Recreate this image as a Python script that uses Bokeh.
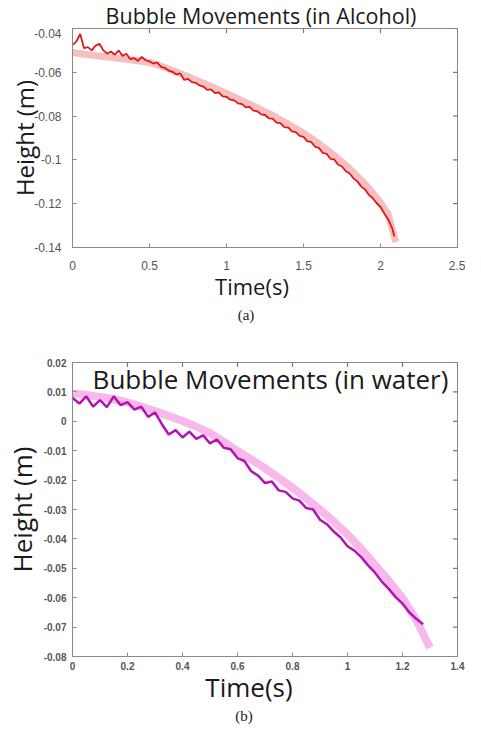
import math
from bokeh.plotting import figure
from bokeh.models import FixedTicker, Label, Range1d, Div
from bokeh.layouts import column
from bokeh.embed import file_html
from bokeh.resources import INLINE

# ---------------- data: alcohol ----------------
alc_t = [0.000, 0.025, 0.050, 0.075, 0.100, 0.125, 0.150, 0.175, 0.200, 0.225,
         0.250, 0.275, 0.300, 0.325, 0.350, 0.375, 0.400, 0.425, 0.450, 0.475,
         0.500, 0.525, 0.550, 0.575, 0.600, 0.625, 0.650, 0.675, 0.700, 0.725,
         0.750, 0.775, 0.800, 0.825, 0.850, 0.875, 0.900, 0.925, 0.950, 0.975,
         1.000, 1.025, 1.050, 1.075, 1.100, 1.125, 1.150, 1.175, 1.200, 1.225,
         1.250, 1.275, 1.300, 1.325, 1.350, 1.375, 1.400, 1.425, 1.450, 1.475,
         1.500, 1.525, 1.550, 1.575, 1.600, 1.625, 1.650, 1.675, 1.700, 1.725,
         1.750, 1.775, 1.800, 1.825, 1.850, 1.875, 1.900, 1.925, 1.950, 1.975,
         2.000, 2.025, 2.050, 2.075, 2.090]
alc_h = [-0.0475, -0.0460, -0.0425, -0.0490, -0.0485, -0.0500, -0.0478, -0.0470, -0.0500, -0.0515,
         -0.0505, -0.0520, -0.0500, -0.0525, -0.0515, -0.0540, -0.0535, -0.0548, -0.0530, -0.0545,
         -0.0550, -0.0560, -0.0555, -0.0575, -0.0580, -0.0592, -0.0598, -0.0610, -0.0605, -0.0635,
         -0.0630, -0.0645, -0.0648, -0.0660, -0.0665, -0.0680, -0.0678, -0.0695, -0.0692, -0.0710,
         -0.0712, -0.0725, -0.0728, -0.0742, -0.0745, -0.0760, -0.0758, -0.0775, -0.0778, -0.0792,
         -0.0795, -0.0810, -0.0812, -0.0830, -0.0832, -0.0850, -0.0852, -0.0870, -0.0873, -0.0890,
         -0.0895, -0.0915, -0.0918, -0.0940, -0.0945, -0.0968, -0.0972, -0.0995, -0.0998, -0.1022,
         -0.1030, -0.1052, -0.1062, -0.1085, -0.1098, -0.1122, -0.1135, -0.1160, -0.1175, -0.1198,
         -0.1215, -0.1245, -0.1272, -0.1310, -0.1350]
alc_fit_t = [0.00, 0.10, 0.20, 0.30, 0.40, 0.50, 0.60, 0.70, 0.80, 0.90, 1.00, 1.10,
             1.20, 1.30, 1.40, 1.50, 1.60, 1.70, 1.80, 1.90, 2.00, 2.05, 2.10]
alc_fit_h = [-0.0510, -0.0520, -0.0528, -0.0536, -0.0545, -0.0555, -0.0578, -0.0605,
             -0.0635, -0.0665, -0.0697, -0.0730, -0.0762, -0.0797, -0.0836, -0.0878,
             -0.0926, -0.0980, -0.1040, -0.1110, -0.1195, -0.1250, -0.1375]

# ---------------- data: water ----------------
wat_t = [0.000, 0.025, 0.050, 0.075, 0.100, 0.125, 0.150, 0.175, 0.200, 0.225,
         0.250, 0.275, 0.300, 0.325, 0.350, 0.375, 0.400, 0.425, 0.450, 0.475,
         0.500, 0.525, 0.550, 0.575, 0.600, 0.625, 0.650, 0.675, 0.700, 0.725,
         0.750, 0.775, 0.800, 0.825, 0.850, 0.875, 0.900, 0.925, 0.950, 0.975,
         1.000, 1.025, 1.050, 1.075, 1.100, 1.125, 1.150, 1.175, 1.200, 1.225,
         1.250, 1.275]
wat_h = [0.0080, 0.0060, 0.0085, 0.0050, 0.0072, 0.0048, 0.0085, 0.0055, 0.0065, 0.0040,
         0.0050, 0.0015, 0.0030, -0.0010, -0.0045, -0.0030, -0.0055, -0.0035, -0.0060, -0.0048,
         -0.0075, -0.0062, -0.0090, -0.0095, -0.0125, -0.0135, -0.0170, -0.0185, -0.0210, -0.0205,
         -0.0235, -0.0240, -0.0262, -0.0270, -0.0295, -0.0300, -0.0335, -0.0350, -0.0375, -0.0395,
         -0.0425, -0.0440, -0.0462, -0.0490, -0.0515, -0.0545, -0.0570, -0.0598, -0.0620, -0.0650,
         -0.0672, -0.0690]
wat_fit_t = [0.00, 0.05, 0.10, 0.15, 0.20, 0.25, 0.30, 0.35, 0.40, 0.45, 0.50, 0.55, 0.60,
             0.65, 0.70, 0.75, 0.80, 0.85, 0.90, 0.95, 1.00, 1.05, 1.10, 1.15, 1.20, 1.25, 1.30]
wat_fit_h = [0.0095, 0.0090, 0.0083, 0.0075, 0.0064, 0.0050, 0.0035, 0.0018, 0.0001, -0.0018,
             -0.0040, -0.0070, -0.0101, -0.0130, -0.0160, -0.0192, -0.0226, -0.0262, -0.0300,
             -0.0341, -0.0385, -0.0434, -0.0488, -0.0542, -0.0601, -0.0675, -0.0770]

# ---------------- ticks ----------------
alc_xticks = [0, 0.5, 1, 1.5, 2, 2.5]
alc_xlabels = ["0", "0.5", "1", "1.5", "2", "2.5"]
alc_yticks = [-0.14, -0.12, -0.10, -0.08, -0.06, -0.04]
alc_ylabels = ["-0.14", "-0.12", "-0.1", "-0.08", "-0.06", "-0.04"]
wat_xticks = [0, 0.2, 0.4, 0.6, 0.8, 1.0, 1.2, 1.4]
wat_xlabels = ["0", "0.2", "0.4", "0.6", "0.8", "1", "1.2", "1.4"]
wat_yticks = [-0.08, -0.07, -0.06, -0.05, -0.04, -0.03, -0.02, -0.01, 0, 0.01, 0.02]
wat_ylabels = ["-0.08", "-0.07", "-0.06", "-0.05", "-0.04", "-0.03", "-0.02", "-0.01", "0", "0.01", "0.02"]

AXC = "#8a8a8a"
TICKC = "#555555"
W = 465


def style_axes(p, xr, yr, xt, xl, yt, yl, tick_font, x_st, y_st):
    p.xaxis.ticker = FixedTicker(ticks=xt)
    p.yaxis.ticker = FixedTicker(ticks=yt)
    p.xaxis.major_label_overrides = {t: l for t, l in zip(xt, xl)}
    p.yaxis.major_label_overrides = {t: l for t, l in zip(yt, yl)}
    for ax in (p.xaxis, p.yaxis):
        ax.major_tick_in = 4
        ax.major_tick_out = 0
        ax.minor_tick_line_color = None
        ax.axis_line_color = AXC
        ax.major_tick_line_color = AXC
        ax.major_label_text_font = "Liberation Sans"
        ax.major_label_text_font_size = tick_font
        ax.major_label_text_color = TICKC
        ax.axis_label_text_font = "Open Sans"
        ax.axis_label_text_font_style = "normal"
        ax.axis_label_text_color = "#1a1a1a"
    p.xaxis.major_label_standoff = x_st
    p.yaxis.major_label_standoff = y_st
    # mirror ticks on top and right edges (clipped to the frame -> inward ticks)
    p.scatter(xt, [yr[1]] * len(xt), marker="dash", angle=math.pi / 2, size=9,
              line_color="#777777", line_width=1.2)
    p.scatter([xr[1]] * len(yt), yt, marker="dash", size=9, line_color="#777777", line_width=1.2)
    p.grid.visible = False
    p.outline_line_color = AXC
    p.background_fill_color = "white"
    p.border_fill_color = "white"


def text_div(height, items):
    spans = []
    for (txt, cx, cy, font, size) in items:
        spans.append(
            f'<span style="position:absolute;left:{cx}px;top:{cy}px;transform:translate(-50%,-50%);'
            f'white-space:nowrap;font-family:\'{font}\';font-size:{size}px;line-height:1;color:#1a1a1a;">{txt}</span>')
    html = (f'<div style="position:relative;width:{W}px;height:{height}px;overflow:visible;">'
            + "".join(spans) + "</div>")
    return Div(text=html, width=W, height=height, margin=0, styles={"overflow": "visible"})


# ---------------- title (a) ----------------
title_a = text_div(28, [("Bubble Movements (in Alcohol)", 261, 16, "Open Sans", 21.5)])

# ---------------- figure (a): alcohol ----------------
alc_xr = (0, 2.5)
alc_yr = (-0.14, -0.04)
p1 = figure(width=W, height=247, x_range=Range1d(*alc_xr), y_range=Range1d(*alc_yr),
            output_backend="svg", toolbar_location=None,
            min_border_left=69, min_border_right=8, min_border_top=0, min_border_bottom=28)
style_axes(p1, alc_xr, alc_yr, alc_xticks, alc_xlabels, alc_yticks, alc_ylabels, "12px", 13, 11)
p1.yaxis.axis_label = "Height (m)"
p1.yaxis.axis_label_text_font_size = "24px"
p1.yaxis.axis_label_standoff = -10

p1.line(alc_fit_t, alc_fit_h, line_color="#f5b0b0", line_width=7, line_alpha=0.8)
p1.line(alc_t, alc_h, line_color="#e01818", line_width=1.8)

under_a = text_div(55, [("Time(s)", 252, 11, "Open Sans", 22),
                        ("(a)", 246, 40, "Liberation Serif", 15)])

# ---------------- figure (b): water ----------------
wat_xr = (0, 1.4)
wat_yr = (-0.08, 0.02)
p2 = figure(width=W, height=344, x_range=Range1d(*wat_xr), y_range=Range1d(*wat_yr),
            output_backend="svg", toolbar_location=None,
            min_border_left=65, min_border_right=8, min_border_top=32, min_border_bottom=18)
style_axes(p2, wat_xr, wat_yr, wat_xticks, wat_xlabels, wat_yticks, wat_ylabels, "10px", 5, 6)
p2.xaxis.major_label_text_font_style = "bold"
p2.yaxis.major_label_text_font_style = "bold"
p2.yaxis.axis_label = "Height (m)"
p2.yaxis.axis_label_text_font_size = "26px"
p2.yaxis.axis_label_text_line_height = 0.9
p2.yaxis.axis_label_standoff = 1

p2.line(wat_fit_t, wat_fit_h, line_color="#f7ace8", line_width=8, line_alpha=0.85)
p2.line(wat_t, wat_h, line_color="#b512b5", line_width=2.5)

p2.add_layout(Label(x=0.72, y=0.02, y_offset=-16, text="Bubble Movements (in water)",
                    text_align="center", text_baseline="middle", text_font="Open Sans",
                    text_font_size="26px", text_color="#1a1a1a"))

under_b = text_div(48, [("Time(s)", 249, 13, "Open Sans", 26),
                        ("(b)", 244, 42, "Liberation Serif", 15)])

layout = column(title_a, p1, under_a, p2, under_b, spacing=0)
open("out.html", "w").write(file_html(layout, INLINE))
